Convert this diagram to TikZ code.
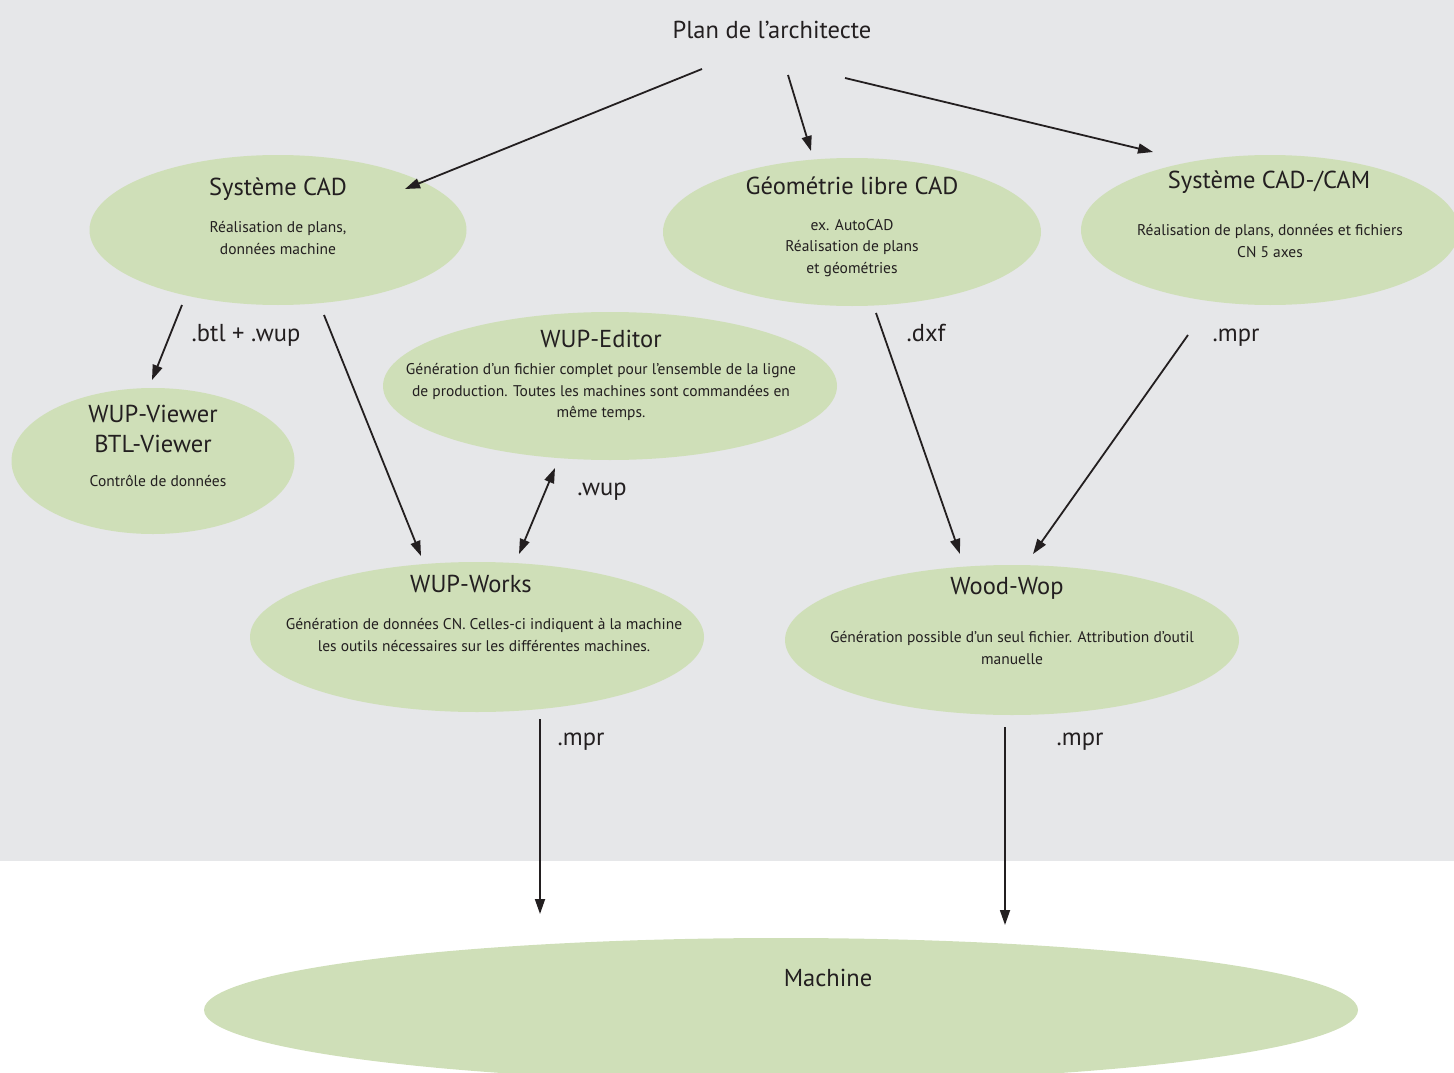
\documentclass[tikz,border=0pt]{standalone}
\usepackage{fontspec}
\setmainfont{PT Sans}
\usetikzlibrary{shapes.geometric,arrows.meta}
\definecolor{bgray}{HTML}{E6E7E9}
\definecolor{ellfill}{HTML}{CFDFB8}
\definecolor{ink}{HTML}{231F20}
\begin{document}
\begin{tikzpicture}[x=1pt,y=-1pt,
  blob/.style={ellipse, fill=ellfill, draw=none, inner sep=0pt},
  ttl/.style={text=ink, font=\fontsize{24.5}{29}\selectfont, inner sep=0pt, align=center},
  sub/.style={text=ink, font=\fontsize{15.5}{21.5}\selectfont, inner sep=0pt, align=center},
  lbl/.style={text=ink, font=\fontsize{24.5}{29}\selectfont, inner sep=0pt, text height=17pt, text depth=5pt},
  arr/.style={draw=ink, line width=1.8pt, -{Triangle[length=15pt,width=10pt]}},
  darr/.style={draw=ink, line width=1.8pt, {Triangle[length=15pt,width=10pt]}-{Triangle[length=15pt,width=10pt]}}
]
\useasboundingbox (0,0) rectangle (1454,1073);
\clip (0,0) rectangle (1454,1073);
\fill[bgray] (0,0) rectangle (1454,861);

% ellipses
\node[blob, minimum width=377pt, minimum height=150pt] (cad) at (278,230) {};
\node[blob, minimum width=378pt, minimum height=148pt] (geo) at (852,232) {};
\node[blob, minimum width=378pt, minimum height=150pt] (cam) at (1270,230) {};
\node[blob, minimum width=454pt, minimum height=148pt] (edit) at (610,386) {};
\node[blob, minimum width=283pt, minimum height=146pt] (view) at (153,461) {};
\node[blob, minimum width=454pt, minimum height=150pt] (works) at (477,637) {};
\node[blob, minimum width=454pt, minimum height=150pt] (wood) at (1012,640) {};
\node[blob, minimum width=1154pt, minimum height=144pt] (mach) at (781,1010) {};

% texts
\node[ttl] (plan) at (772,30) {Plan de l’architecte};
\node[ttl] (cadT) at (278,189) {Système CAD};
\node[sub] (cadS) at (278,238) {Réalisation de plans,\\données machine};
\node[ttl] (geoT) at (852,186) {Géométrie libre CAD};
\node[sub] (geoS) at (852,248) {ex. AutoCAD\\Réalisation de plans\\et géométries};
\node[ttl] (camT) at (1269,182) {Système CAD-/CAM};
\node[sub] (camS) at (1270,241) {Réalisation de plans, données et fichiers\\CN 5 axes};
\node[ttl] (editT) at (601,339) {WUP-Editor};
\node[sub] (editS) at (601,392) {Génération d’un fichier complet pour l’ensemble de la ligne\\de production. Toutes les machines sont commandées en\\même temps.};
\node[ttl, font=\fontsize{24.5}{30}\selectfont] (viewT) at (153,429) {WUP-Viewer\\BTL-Viewer};
\node[sub] (viewS) at (158,481) {Contrôle de données};
\node[ttl] (worksT) at (471,584) {WUP-Works};
\node[sub] (worksS) at (484,635) {Génération de données CN. Celles-ci indiquent à la machine\\les outils nécessaires sur les différentes machines.};
\node[ttl] (woodT) at (1007,588) {Wood-Wop};
\node[sub] (woodS) at (1012,648) {Génération possible d’un seul fichier. Attribution d’outil\\manuelle};
\node[ttl] (machT) at (828,978) {Machine};

% edge labels
\node[lbl] (l1) at (246,335) {.btl + .wup};
\node[lbl] (l2) at (926,335) {.dxf};
\node[lbl] (l3) at (1236,335) {.mpr};
\node[lbl] (l4) at (602,489) {.wup};
\node[lbl] (l5) at (581,739) {.mpr};
\node[lbl] (l6) at (1080,739) {.mpr};

% connector end points
\coordinate (p1) at (702,69);  \coordinate (q1) at (405,189);
\coordinate (p2) at (788,75);  \coordinate (q2) at (811,151);
\coordinate (p3) at (845,78);  \coordinate (q3) at (1153,152);
\coordinate (p4) at (182,305); \coordinate (q4) at (152,380);
\coordinate (p5) at (324,315); \coordinate (q5) at (421,556);
\coordinate (p6) at (555,468); \coordinate (q6) at (519,554);
\coordinate (p7) at (876,313); \coordinate (q7) at (960,554);
\coordinate (p8) at (1188,335);\coordinate (q8) at (1033,554);
\coordinate (p9) at (540,719); \coordinate (q9) at (540,914);
\coordinate (p10) at (1005,727);\coordinate (q10) at (1005,925);

\draw[arr] (p1) -- (q1);
\draw[arr] (p2) -- (q2);
\draw[arr] (p3) -- (q3);
\draw[arr] (p4) -- (q4);
\draw[arr] (p5) -- (q5);
\draw[darr] (p6) -- (q6);
\draw[arr] (p7) -- (q7);
\draw[arr] (p8) -- (q8);
\draw[arr] (p9) -- (q9);
\draw[arr] (p10) -- (q10);
\end{tikzpicture}
\end{document}
